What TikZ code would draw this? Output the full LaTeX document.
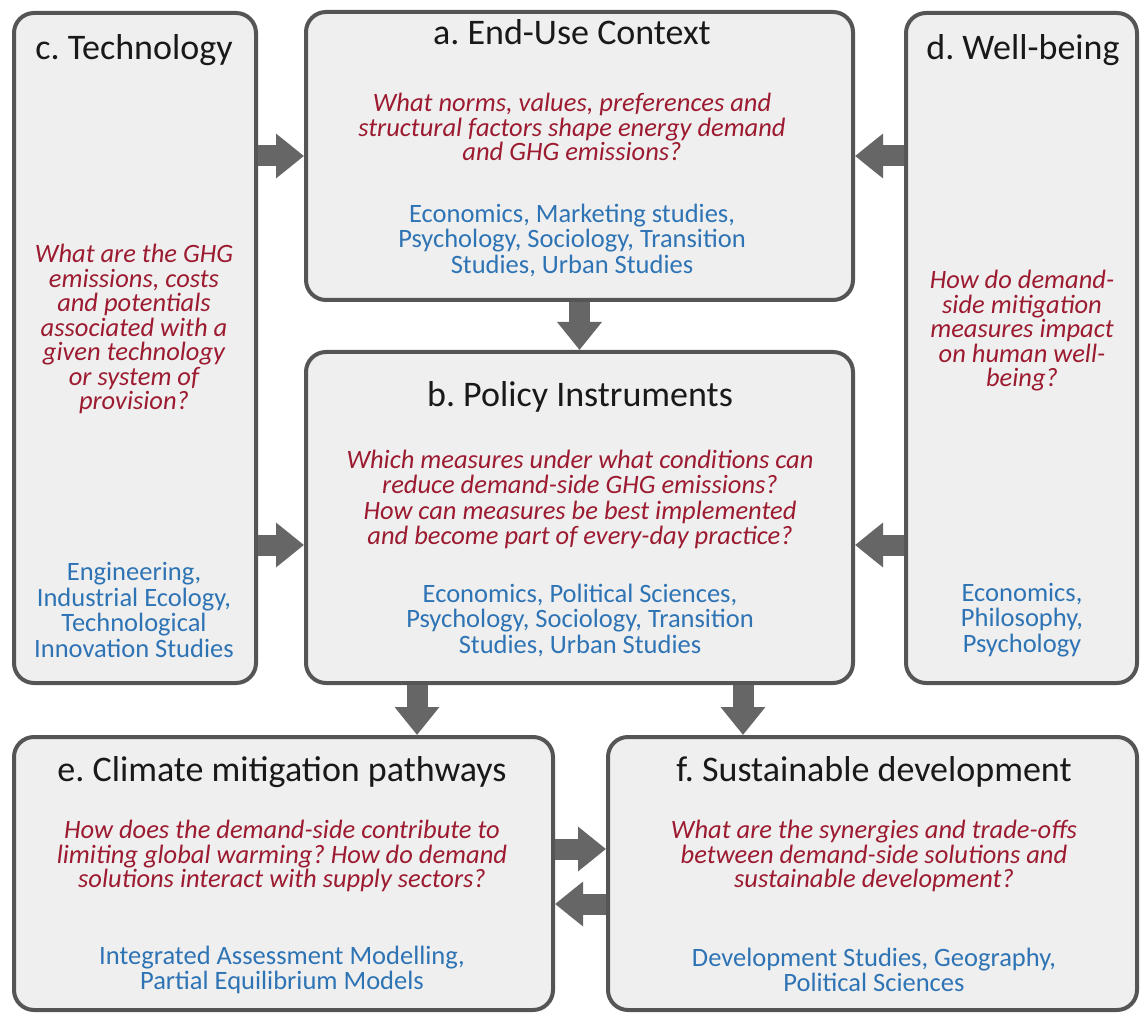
\documentclass[tikz,border=0pt]{standalone}
\usepackage{fontspec}
\setmainfont{Carlito}
\usetikzlibrary{arrows.meta}
\definecolor{qRed}{HTML}{9C1B30}
\definecolor{dBlue}{HTML}{2E74B5}
\definecolor{boxFill}{HTML}{EFEFEF}
\definecolor{boxLine}{HTML}{555555}
\definecolor{arrGray}{HTML}{666666}
\frenchspacing

\begin{document}
\begin{tikzpicture}[x=1pt,y=-1pt]
		\tikzstyle{box} = [draw=boxLine, fill=boxFill, line width=4pt, rounded corners=20pt, inner sep=0pt]
		\tikzstyle{title} = [inner sep=0pt, font=\fontsize{36}{40}\selectfont, text=black!90]
		\tikzstyle{quest} = [inner sep=0pt, align=center, font=\fontsize{26.5}{24.5}\selectfont\itshape, text=qRed]
		\tikzstyle{disc} = [inner sep=0pt, align=center, font=\fontsize{26.5}{25.5}\selectfont, text=dBlue]
		\tikzstyle{fat} = [draw=arrGray, line width=21pt, -{Triangle[length=28pt,width=43pt]}]

		\useasboundingbox (0,0) rectangle (1141,1016);

		% boxes
		\node[box, minimum width=242pt, minimum height=670pt] (tech) at (135, 348) {};
		\node[box, minimum width=547pt, minimum height=288pt] (ctx) at (579.5, 156) {};
		\node[box, minimum width=547pt, minimum height=331pt] (pol) at (579.5, 517.5) {};
		\node[box, minimum width=231pt, minimum height=670pt] (wb) at (1021.5, 348) {};
		\node[box, minimum width=539pt, minimum height=273pt] (mit) at (283.5, 873.5) {};
		\node[box, minimum width=529pt, minimum height=273pt] (sus) at (872.5, 873.5) {};

		% c. Technology
		\node[title] (cTitle) at (134, 50) {c. Technology};
		\node[quest] (cQ) at (134, 329) {What are the GHG\\emissions, costs\\and potentials\\associated with a\\given technology\\or system of\\provision?};
		\node[disc] (cDisc) at (134, 610) {Engineering,\\Industrial Ecology,\\Technological\\Innovation Studies};

		% a. End-Use Context
		\node[title] (aTitle) at (572, 32) {a. End-Use Context};
		\node[quest] (aQ) at (572, 127) {What norms, values, preferences and\\structural factors shape energy demand\\and GHG emissions?};
		\node[disc] (aDisc) at (572, 240) {Economics, Marketing studies,\\Psychology, Sociology, Transition\\Studies, Urban Studies};

		% b. Policy Instruments
		\node[title] (bTitle) at (580, 397) {b. Policy Instruments};
		\node[quest] (bQ1) at (580, 472) {Which measures under what conditions can\\reduce demand-side GHG emissions?};
		\node[quest] (bQ2) at (580, 525) {How can measures be best implemented\\and become part of every-day practice?};
		\node[disc] (bDisc) at (580, 620) {Economics, Political Sciences,\\Psychology, Sociology, Transition\\Studies, Urban Studies};

		% d. Well-being
		\node[title] (dTitle) at (1023, 50) {d. Well-being};
		\node[quest] (dQ) at (1022, 331) {How do demand-\\side mitigation\\measures impact\\on human well-\\being?};
		\node[disc] (dDisc) at (1022, 620) {Economics,\\Philosophy,\\Psychology};

		% e. Climate mitigation pathways
		\node[title] (eTitle) at (282, 772) {e. Climate mitigation pathways};
		\node[quest] (eQ) at (282, 856) {How does the demand-side contribute to\\limiting global warming? How do demand\\solutions interact with supply sectors?};
		\node[disc] (eDisc) at (282, 970) {Integrated Assessment Modelling,\\Partial Equilibrium Models};

		% f. Sustainable development
		\node[title] (fTitle) at (874, 772) {f. Sustainable development};
		\node[quest] (fQ) at (874, 856) {What are the synergies and trade-offs\\between demand-side solutions and\\sustainable development?};
		\node[disc] (fDisc) at (874, 970) {Development Studies, Geography,\\Political Sciences};

		% arrows
		\coordinate (bArr) at (0, 545);
		\coordinate (eArr) at (417, 0);
		\coordinate (fArr) at (743, 0);
		\coordinate (efArr) at (0, 849);
		\coordinate (feArr) at (0, 904);
		\draw[fat] (tech.east |- ctx.west) -- (ctx.west);
		\draw[fat] (wb.west |- ctx.east) -- (ctx.east);
		\draw[fat] (tech.east |- bArr) -- (pol.west |- bArr);
		\draw[fat] (wb.west |- bArr) -- (pol.east |- bArr);
		\draw[fat] (ctx.south) -- (pol.north);
		\draw[fat] (pol.south -| eArr) -- (mit.north -| eArr);
		\draw[fat] (pol.south -| fArr) -- (sus.north -| fArr);
		\draw[fat] (mit.east |- efArr) -- (sus.west |- efArr);
		\draw[fat] (sus.west |- feArr) -- (mit.east |- feArr);
\end{tikzpicture}
\end{document}
